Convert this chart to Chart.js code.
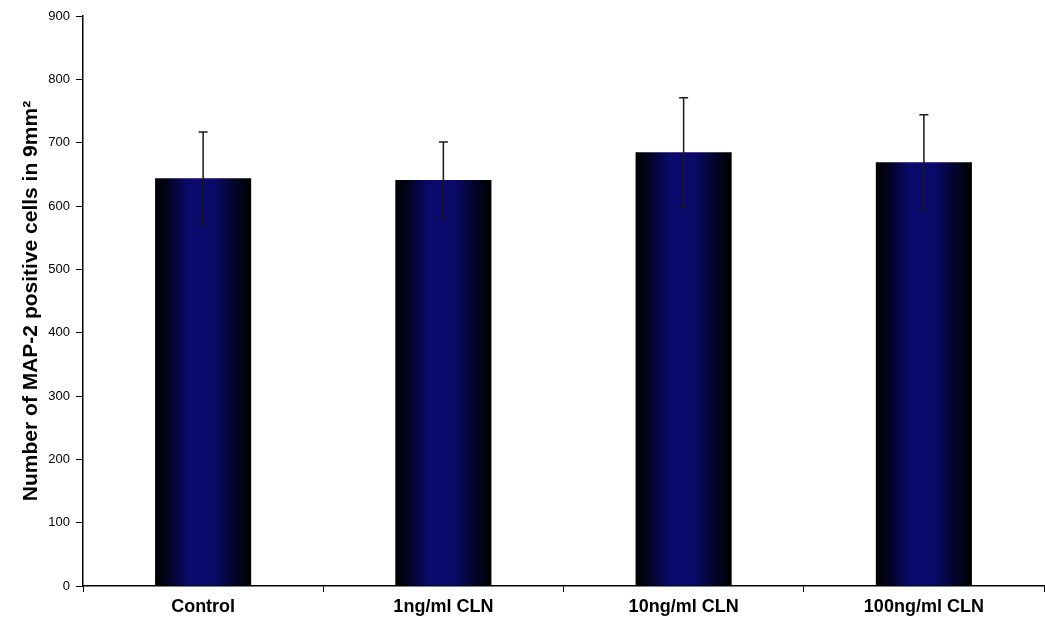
<!DOCTYPE html>
<html>
<head>
<meta charset="utf-8">
<script src="https://cdn.jsdelivr.net/npm/chart.js@4.4.0/dist/chart.umd.min.js"></script>
<style>
  html, body { margin: 0; padding: 0; background: #ffffff; }
  #wrap { width: 1045px; height: 632px; }
</style>
</head>
<body>
<div id="wrap"><canvas id="cells" width="1045" height="632"></canvas></div>
<script>
// data
var groups = ["Control", "1ng/ml CLN", "10ng/ml CLN", "100ng/ml CLN"];
var meanCells = [644, 641, 685, 669];
var sdCells = [73, 60, 86, 75];
var yTicks = [0, 100, 200, 300, 400, 500, 600, 700, 800, 900];

// black edges, navy middle, like the old Excel shaded bars
function barFill(context) {
    var chart = context.chart;
    if (!chart.chartArea) return "#0b0b70";
    var xs = chart.scales.x;
    var cx = xs.getPixelForValue(context.dataIndex);
    var half = (xs.width / groups.length) * 0.4 / 2;
    var g = chart.ctx.createLinearGradient(cx - half, 0, cx + half, 0);
    g.addColorStop(0, "#000000");
    g.addColorStop(0.12, "#02021a");
    g.addColorStop(0.35, "#0a0a6c");
    g.addColorStop(0.6, "#0a0a6c");
    g.addColorStop(0.85, "#030326");
    g.addColorStop(1, "#000000");
    return g;
}

var errorBars = {
    id: "errorBars",
    afterDatasetsDraw: function (chart) {
        var ctx = chart.ctx;
        var xs = chart.scales.x, ys = chart.scales.y;
        ctx.save();
        ctx.strokeStyle = "#1a1a1a";
        ctx.lineWidth = 1.5;
        for (var i = 0; i < meanCells.length; i++) {
            var x = xs.getPixelForValue(i);
            var top = ys.getPixelForValue(meanCells[i] + sdCells[i]);
            var bot = ys.getPixelForValue(meanCells[i] - sdCells[i]);
            ctx.beginPath();
            ctx.moveTo(x, top);
            ctx.lineTo(x, bot);
            ctx.moveTo(x - 4.5, top);
            ctx.lineTo(x + 4.5, top);
            ctx.moveTo(x - 3, bot);
            ctx.lineTo(x + 3, bot);
            ctx.stroke();
        }
        ctx.restore();
    }
};

var cellChart = new Chart(document.getElementById("cells").getContext("2d"), {
    type: 'bar',
    data: {
        labels: groups,
        datasets: [{
            label: "MAP-2 positive cells",
            data: meanCells,
            backgroundColor: barFill,
            borderColor: "#000000",
            borderWidth: 0,
            barPercentage: 0.4,
            categoryPercentage: 1.0
        }]
    },
    options: {
        responsive: false,
        animation: false,
        layout: {
            padding: { top: 16, right: 1, left: 0, bottom: 0 }
        },
        scales: {
            y: {
                min: 0,
                max: 900,
                afterBuildTicks: function (scale) {
                    scale.ticks = yTicks.map(function (v) { return { value: v }; });
                },
                afterFit: function (scale) {
                    scale.width = 83;
                },
                border: { display: true, color: "#000000", width: 1.5 },
                grid: {
                    drawOnChartArea: false,
                    drawTicks: true,
                    tickLength: 7,
                    color: "#000000"
                },
                ticks: {
                    color: "#000000",
                    padding: 6,
                    font: { family: "Liberation Sans, Arial, sans-serif", size: 13 }
                },
                title: {
                    display: true,
                    text: "Number of MAP-2 positive cells in 9mm\u00B2",
                    color: "#000000",
                    padding: { top: 19, bottom: 0 },
                    font: { family: "Liberation Sans, Arial, sans-serif", size: 21, weight: "bold" }
                }
            },
            x: {
                afterFit: function (scale) {
                    scale.height = 46;
                },
                border: { display: true, color: "#000000", width: 1.5 },
                grid: {
                    offset: true,
                    drawOnChartArea: false,
                    drawTicks: true,
                    tickLength: 6,
                    color: "#000000"
                },
                ticks: {
                    color: "#000000",
                    padding: 4,
                    font: { family: "Liberation Sans, Arial, sans-serif", size: 18, weight: "bold" }
                }
            }
        },
        plugins: {
            legend: { display: false },
            tooltip: { enabled: false }
        }
    },
    plugins: [errorBars]
});
</script>
</body>
</html>
